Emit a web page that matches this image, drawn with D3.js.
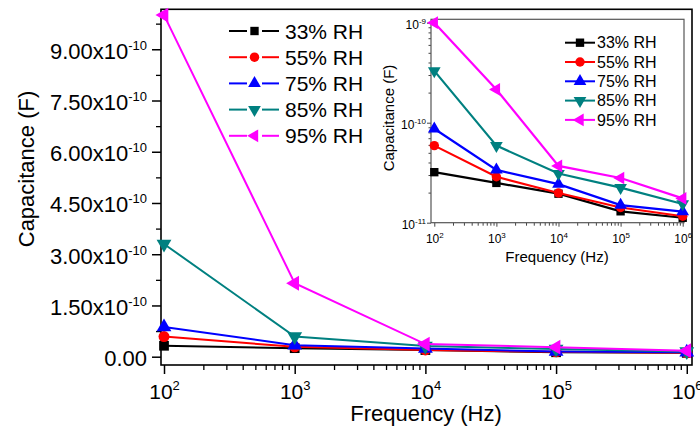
<!DOCTYPE html>
<html>
<head>
<meta charset="utf-8">
<script src="https://cdn.jsdelivr.net/npm/d3@7"></script>
<style>
  body { margin: 0; background: #fff; }
  svg { display: block; font-family: "Liberation Sans", Arial, sans-serif; }
</style>
</head>
<body>
<div id="chart"></div>
<script>
// Frequencies (Hz) and capacitance (F) per humidity level
const freq = [1e2, 1e3, 1e4, 1e5, 1e6];
const rh33 = [3.2e-11, 2.5e-11, 1.95e-11, 1.3e-11, 1.12e-11];
const rh55 = [5.9e-11, 2.88e-11, 1.98e-11, 1.42e-11, 1.16e-11];
const rh75 = [8.7e-11, 3.37e-11, 2.43e-11, 1.5e-11, 1.29e-11];
const rh85 = [3.3e-10, 5.9e-11, 3.1e-11, 2.24e-11, 1.54e-11];
const rh95 = [1.0e-9, 2.15e-10, 3.7e-11, 2.8e-11, 1.75e-11];

const seriesNames = ["33% RH", "55% RH", "75% RH", "85% RH", "95% RH"];
const seriesValues = [rh33, rh55, rh75, rh85, rh95];

// main y axis ticks (linear)
const yMajorTicks = [0, 1.5e-10, 3.0e-10, 4.5e-10, 6.0e-10, 7.5e-10, 9.0e-10];
const yMajorLabels = ["0.00", "1.50", "3.00", "4.50", "6.00", "7.50", "9.00"];
const yExponent = "-10";
// inset y axis ticks (log)
const insetYTicks = [1e-11, 1e-10, 1e-9];

const colors = ["#000000", "#ff0000", "#0000ff", "#008080", "#ff00ff"];
const shapes = [
    { type: d3.symbolSquare, rot: 0 },
    { type: d3.symbolCircle, rot: 0 },
    { type: d3.symbolTriangle, rot: 0 },
    { type: d3.symbolTriangle, rot: 180 },
    { type: d3.symbolTriangle, rot: -90 }
];

const series = seriesNames.map((name, i) => ({
    name: name,
    color: colors[i],
    shape: shapes[i],
    values: freq.map((f, j) => ({ f: f, c: seriesValues[i][j] }))
}));

const svg = d3.select("#chart").append("svg")
    .attr("width", 700)
    .attr("height", 432);

// minor log ticks between decades
function logMinor(lo, hi) {
    const out = [];
    for (let k = lo; k < hi; k++) {
        for (let m = 2; m <= 9; m++) out.push(m * Math.pow(10, k));
    }
    return out;
}

function drawMarker(g, s, size, cx, cy) {
    g.append("path")
        .attr("d", d3.symbol().type(s.shape.type).size(size)())
        .attr("transform", `translate(${cx},${cy}) rotate(${s.shape.rot})`)
        .attr("fill", s.color);
}

// ---------------- main plot ----------------
const box = { left: 161, right: 692, top: 9.3, bottom: 365 };

const x = d3.scaleLog()
    .domain([Math.pow(10, 1.977), Math.pow(10, 6.04)])
    .range([box.left, box.right]);

const y = d3.scaleLinear()
    .domain([-0.243e-10, 10.17e-10])
    .range([box.bottom, box.top]);

// x axis minor ticks
svg.append("g")
    .attr("transform", `translate(0,${box.bottom})`)
    .call(d3.axisBottom(x).tickValues(logMinor(2, 6)).tickSize(5).tickSizeOuter(0).tickFormat(""))
    .call(g => g.select(".domain").remove())
    .call(g => g.selectAll("line").attr("stroke", "#000").attr("stroke-width", 1.3));

// x axis major ticks + labels
svg.append("g")
    .attr("transform", `translate(0,${box.bottom})`)
    .call(d3.axisBottom(x).tickValues(freq).tickSize(9).tickPadding(10).tickSizeOuter(0).tickFormat(""))
    .call(g => g.select(".domain").remove())
    .call(g => g.selectAll("line").attr("stroke", "#000").attr("stroke-width", 1.5))
    .call(g => g.selectAll("text")
        .attr("fill", "#000")
        .style("font-size", "21px")
        .attr("dy", "0.71em")
        .each(function(d) {
            const t = d3.select(this);
            t.append("tspan").text("10");
            t.append("tspan").attr("dy", -9).style("font-size", "13px").text(Math.round(Math.log10(d)));
        }));

// y axis minor ticks
const yMinor = d3.range(0.75e-10, 10.0e-10, 1.5e-10);
svg.append("g")
    .attr("transform", `translate(${box.left},0)`)
    .call(d3.axisLeft(y).tickValues(yMinor).tickSize(5).tickSizeOuter(0).tickFormat(""))
    .call(g => g.select(".domain").remove())
    .call(g => g.selectAll("line").attr("stroke", "#000").attr("stroke-width", 1.3));

// y axis major ticks + labels
svg.append("g")
    .attr("transform", `translate(${box.left},0)`)
    .call(d3.axisLeft(y).tickValues(yMajorTicks).tickSize(9).tickPadding(5).tickSizeOuter(0).tickFormat(""))
    .call(g => g.select(".domain").remove())
    .call(g => g.selectAll("line").attr("stroke", "#000").attr("stroke-width", 1.5))
    .call(g => g.selectAll("text")
        .attr("fill", "#000")
        .style("font-size", "22px")
        .attr("dy", "0.4em")
        .each(function(d, i) {
            const t = d3.select(this);
            if (i === 0) {
                t.append("tspan").text(yMajorLabels[i]);
            } else {
                t.append("tspan").text(yMajorLabels[i] + "x10");
                t.append("tspan").attr("dy", -9).style("font-size", "13px").text(yExponent);
            }
        }));

// frame
svg.append("rect")
    .attr("x", box.left)
    .attr("y", box.top)
    .attr("width", box.right - box.left)
    .attr("height", box.bottom - box.top)
    .attr("fill", "none")
    .attr("stroke", "#000")
    .attr("stroke-width", 1.6);

// axis titles
svg.append("text")
    .attr("x", 426)
    .attr("y", 421)
    .attr("text-anchor", "middle")
    .style("font-size", "22px")
    .text("Frequency (Hz)");

svg.append("text")
    .attr("transform", "translate(34,169) rotate(-90)")
    .attr("text-anchor", "middle")
    .style("font-size", "22px")
    .text("Capacitance (F)");

// data
const mainLine = d3.line().x(d => x(d.f)).y(d => y(d.c));
series.forEach(s => {
    const g = svg.append("g");
    g.append("path")
        .datum(s.values)
        .attr("d", mainLine)
        .attr("fill", "none")
        .attr("stroke", s.color)
        .attr("stroke-width", 2);
    s.values.forEach(d => drawMarker(g, s, 95, x(d.f), y(d.c)));
});

// main legend
const legend = svg.append("g");
series.forEach((s, i) => {
    const ly = 31 + i * 26.2;
    legend.append("line")
        .attr("x1", 229).attr("x2", 247)
        .attr("y1", ly).attr("y2", ly)
        .attr("stroke", s.color).attr("stroke-width", 2);
    legend.append("line")
        .attr("x1", 262).attr("x2", 279)
        .attr("y1", ly).attr("y2", ly)
        .attr("stroke", s.color).attr("stroke-width", 2);
    drawMarker(legend, s, 70, 254.5, ly);
    legend.append("text")
        .attr("x", 285)
        .attr("y", ly)
        .attr("dy", "0.36em")
        .style("font-size", "21px")
        .text(s.name);
});

// ---------------- inset ----------------
const ibox = { left: 431, right: 684, top: 19.3, bottom: 222.7 };

const xi = d3.scaleLog()
    .domain([Math.pow(10, 1.947), Math.pow(10, 6.021)])
    .range([ibox.left, ibox.right]);

const yi = d3.scaleLog()
    .domain([1e-11, Math.pow(10, -8.966)])
    .range([ibox.bottom, ibox.top]);

svg.append("rect")
    .attr("x", ibox.left)
    .attr("y", ibox.top)
    .attr("width", ibox.right - ibox.left)
    .attr("height", ibox.bottom - ibox.top)
    .attr("fill", "#fff");

// inset x ticks
svg.append("g")
    .attr("transform", `translate(0,${ibox.bottom})`)
    .call(d3.axisBottom(xi).tickValues(logMinor(2, 6)).tickSize(3).tickSizeOuter(0).tickFormat(""))
    .call(g => g.select(".domain").remove())
    .call(g => g.selectAll("line").attr("stroke", "#444"));

svg.append("g")
    .attr("transform", `translate(0,${ibox.bottom})`)
    .call(d3.axisBottom(xi).tickValues(freq).tickSize(4).tickPadding(8).tickSizeOuter(0).tickFormat(""))
    .call(g => g.select(".domain").remove())
    .call(g => g.selectAll("line").attr("stroke", "#444"))
    .call(g => g.selectAll("text")
        .attr("fill", "#000")
        .style("font-size", "12px")
        .attr("dy", "0.71em")
        .each(function(d) {
            const t = d3.select(this);
            t.append("tspan").text("10");
            t.append("tspan").attr("dy", -5).style("font-size", "8px").text(Math.round(Math.log10(d)));
        }));

// inset y ticks
svg.append("g")
    .attr("transform", `translate(${ibox.left},0)`)
    .call(d3.axisLeft(yi).tickValues(logMinor(-11, -9)).tickSize(2.5).tickSizeOuter(0).tickFormat(""))
    .call(g => g.select(".domain").remove())
    .call(g => g.selectAll("line").attr("stroke", "#444"));

svg.append("g")
    .attr("transform", `translate(${ibox.left},0)`)
    .call(d3.axisLeft(yi).tickValues(insetYTicks).tickSize(4).tickPadding(1).tickSizeOuter(0).tickFormat(""))
    .call(g => g.select(".domain").remove())
    .call(g => g.selectAll("line").attr("stroke", "#444"))
    .call(g => g.selectAll("text")
        .attr("fill", "#000")
        .style("font-size", "12px")
        .attr("dy", "0.45em")
        .each(function(d) {
            const t = d3.select(this);
            t.append("tspan").text("10");
            t.append("tspan").attr("dy", -5).style("font-size", "8px").text(Math.round(Math.log10(d)));
        }));

svg.append("rect")
    .attr("x", ibox.left)
    .attr("y", ibox.top)
    .attr("width", ibox.right - ibox.left)
    .attr("height", ibox.bottom - ibox.top)
    .attr("fill", "none")
    .attr("stroke", "#555")
    .attr("stroke-width", 1.2);

svg.append("text")
    .attr("x", 557)
    .attr("y", 262)
    .attr("text-anchor", "middle")
    .style("font-size", "15px")
    .text("Frequency (Hz)");

svg.append("text")
    .attr("transform", "translate(394,118) rotate(-90)")
    .attr("text-anchor", "middle")
    .style("font-size", "15px")
    .text("Capacitance (F)");

const insetLine = d3.line().x(d => xi(d.f)).y(d => yi(d.c));
series.forEach(s => {
    const g = svg.append("g");
    g.append("path")
        .datum(s.values)
        .attr("d", insetLine)
        .attr("fill", "none")
        .attr("stroke", s.color)
        .attr("stroke-width", 2.2);
    s.values.forEach(d => drawMarker(g, s, 70, xi(d.f), yi(d.c)));
});

// inset legend
const ilegend = svg.append("g");
series.forEach((s, i) => {
    const ly = 42.7 + i * 19.3;
    ilegend.append("line")
        .attr("x1", 565).attr("x2", 595)
        .attr("y1", ly).attr("y2", ly)
        .attr("stroke", s.color).attr("stroke-width", 2);
    drawMarker(ilegend, s, 70, 580, ly);
    ilegend.append("text")
        .attr("x", 597)
        .attr("y", ly)
        .attr("dy", "0.36em")
        .style("font-size", "16px")
        .text(s.name);
});
</script>
</body>
</html>
